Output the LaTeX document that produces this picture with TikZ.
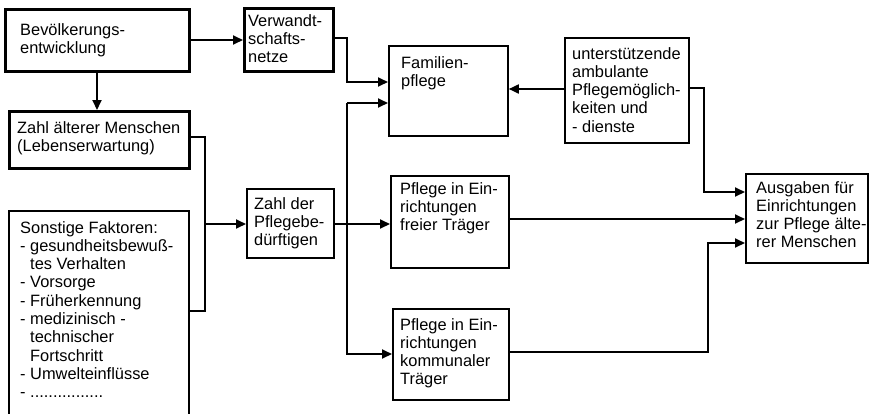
\documentclass[tikz,border=0pt]{standalone}
\usepackage{fontspec}
\setmainfont{Liberation Sans}
\usetikzlibrary{arrows.meta}
\begin{document}
\begin{tikzpicture}[x=1pt,y=-1pt,
  boxthin/.style={draw, line width=1.8pt, rectangle, anchor=north west, inner sep=0pt},
  boxthick/.style={boxthin, line width=3pt},
  txt/.style={anchor=base west, inner sep=0pt, align=left, font=\fontsize{16.4}{18.3}\selectfont},
  conn/.style={line width=1.8pt},
  arr/.style={conn, -{Triangle[length=10pt,width=9pt]}}]
\useasboundingbox (0,0) rectangle (869,413);
% boxes
\node[boxthick, minimum width=184pt, minimum height=62pt] (bev) at (4,8) {};
\node[boxthick, minimum width=180pt, minimum height=57pt] (alt) at (8,110) {};
\node[boxthick, minimum width=89pt, minimum height=63pt] (verw) at (243,7) {};
\node[boxthin, minimum width=180pt, minimum height=212pt] (sons) at (8,210) {};
\node[boxthin, minimum width=87pt, minimum height=69pt] (zahl) at (246,188) {};
\node[boxthin, minimum width=119pt, minimum height=90pt] (fam) at (388,45) {};
\node[boxthin, minimum width=124pt, minimum height=105pt] (unt) at (564,37) {};
\node[boxthin, minimum width=118pt, minimum height=92pt] (frei) at (390,175) {};
\node[boxthin, minimum width=116pt, minimum height=91pt] (komm) at (392,308) {};
\node[boxthin, minimum width=122pt, minimum height=89pt] (ausg) at (745,173) {};
% texts (anchored at the baseline of the last line)
\node[txt] (tbev) at (20,53.3) {Bevölkerungs-\\entwicklung};
\node[txt] (talt) at (17,151.3) {Zahl älterer Menschen\\(Lebenserwartung)};
\node[txt] (tverw) at (248,62.6) {Verwandt-\\schafts-\\netze};
\node[txt] (tzahl) at (254,245.6) {Zahl der\\Pflegebe-\\dürftigen};
\node[txt] (tfam) at (401,86.3) {Familien-\\pflege};
\node[txt] (tunt) at (572,132.2) {unterstützende\\ambulante\\Pflegemöglich-\\keiten und\\- dienste};
\node[txt] (tfrei) at (400,230.6) {Pflege in Ein-\\richtungen\\freier Träger};
\node[txt] (tkomm) at (400,384.9) {Pflege in Ein-\\richtungen\\kommunaler\\Träger};
\node[txt] (tausg) at (756,247.9) {Ausgaben für\\Einrichtungen\\zur Pflege älte-\\rer Menschen};
\node[txt] (tsons) at (20,397.7) {Sonstige Faktoren:\\- gesundheitsbewuß-\\\phantom{-~}tes Verhalten\\- Vorsorge\\- Früherkennung\\- medizinisch -\\\phantom{-~}technischer\\\phantom{-~}Fortschritt\\- Umwelteinflüsse\\- ................};
% junction coordinates
\coordinate (j1) at (205,311);
\coordinate (j2) at (205,224);
\coordinate (bus) at (347,103);
% connectors
\draw[arr] (bev.east |- 0,40) -- (verw.west |- 0,40);
\draw[arr] (bev.south -| 97,0) -- (alt.north -| 97,0);
\draw[arr] (verw.east |- 0,38) -| (347,82) -- (fam.west |- 0,82);
\draw[conn] (alt.east |- 0,137) -| (j1) -- (sons.east |- j1);
\draw[arr] (j2) -- (zahl.west |- j2);
\draw[arr] (zahl.east |- j2) -- (frei.west |- j2);
\draw[arr] (bus) -- (fam.west |- bus);
\draw[arr] (bus) |- (komm.west |- 0,354);
\draw[arr] (unt.west |- 0,89) -- (fam.east |- 0,89);
\draw[arr] (unt.east |- 0,88) -| (704,192) -- (ausg.west |- 0,192);
\draw[arr] (frei.east |- 0,219) -- (ausg.west |- 0,219);
\draw[arr] (komm.east |- 0,352) -| (708,243) -- (ausg.west |- 0,243);
\end{tikzpicture}
\end{document}
